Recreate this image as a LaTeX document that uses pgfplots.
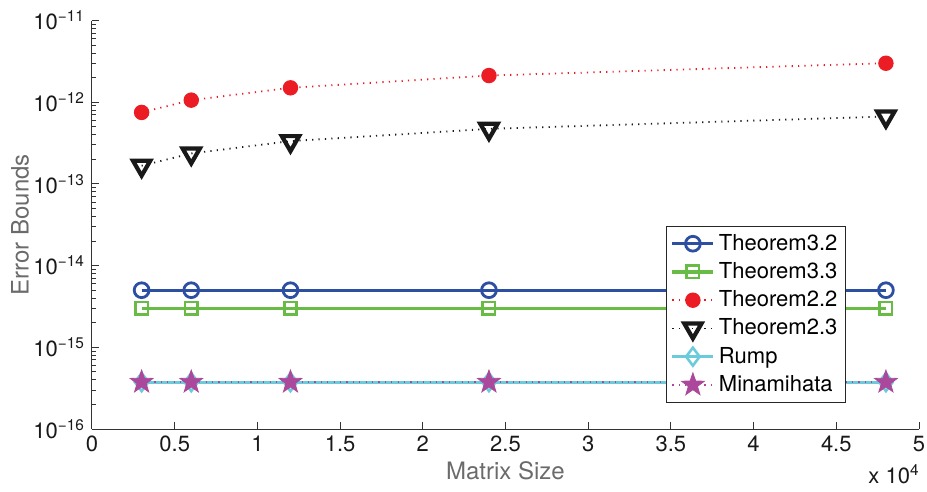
\documentclass[border=0pt]{standalone}
\usepackage{fontspec}
\setmainfont{TeX Gyre Heros}
\usepackage{pgfplots}
\pgfplotsset{compat=1.18}
\definecolor{cblue}{RGB}{44,79,162}
\definecolor{cgreen}{RGB}{104,188,70}
\definecolor{cred}{RGB}{236,28,36}
\definecolor{ccyan}{RGB}{108,203,218}
\definecolor{cmag}{RGB}{172,72,156}
\pgfdeclareplotmark{fstar}{%
  \pgfpathmoveto{\pgfpointpolar{90}{\pgfplotmarksize}}%
  \pgfpathlineto{\pgfpointpolar{126}{0.40*\pgfplotmarksize}}%
  \pgfpathlineto{\pgfpointpolar{162}{\pgfplotmarksize}}%
  \pgfpathlineto{\pgfpointpolar{198}{0.40*\pgfplotmarksize}}%
  \pgfpathlineto{\pgfpointpolar{234}{\pgfplotmarksize}}%
  \pgfpathlineto{\pgfpointpolar{270}{0.40*\pgfplotmarksize}}%
  \pgfpathlineto{\pgfpointpolar{306}{\pgfplotmarksize}}%
  \pgfpathlineto{\pgfpointpolar{342}{0.40*\pgfplotmarksize}}%
  \pgfpathlineto{\pgfpointpolar{18}{\pgfplotmarksize}}%
  \pgfpathlineto{\pgfpointpolar{54}{0.40*\pgfplotmarksize}}%
  \pgfpathclose
  \pgfusepathqfillstroke
}
\begin{document}
\begin{tikzpicture}
\path[use as bounding box] (-46pt,-31.5pt) rectangle (417.5pt,214.5pt);
\begin{axis}[
  scale only axis, width=413.5pt, height=204.25pt,
  at={(0,0)}, anchor=south west,
  ymode=log, log basis y=10, ymin=1e-16, ymax=1e-11,
  xmin=0, xmax=50000,
  axis lines=left, axis line style={-, line width=0.5pt, draw=black!80},
  tick align=inside,
  xtick={0,5000,10000,15000,20000,25000,30000,35000,40000,45000,50000},
  xticklabels={0,0.5,1,1.5,2,2.5,3,3.5,4,4.5,5},
  scaled x ticks=false,
  ytick={1e-16,1e-15,1e-14,1e-13,1e-12,1e-11},
  minor ytick={2e-16,3e-16,4e-16,5e-16,6e-16,7e-16,8e-16,9e-16,
    2e-15,3e-15,4e-15,5e-15,6e-15,7e-15,8e-15,9e-15,
    2e-14,3e-14,4e-14,5e-14,6e-14,7e-14,8e-14,9e-14,
    2e-13,3e-13,4e-13,5e-13,6e-13,7e-13,8e-13,9e-13,
    2e-12,3e-12,4e-12,5e-12,6e-12,7e-12,8e-12,9e-12},
  yticklabels={10\textsuperscript{−16},10\textsuperscript{−15},10\textsuperscript{−14},10\textsuperscript{−13},10\textsuperscript{−12},10\textsuperscript{−11}},
  major tick length=3.5pt, minor tick length=2pt,
  every tick/.style={black!80, line width=0.5pt},
  tick label style={font=\fontsize{11}{13}\selectfont, text=black!90},
  xlabel={Matrix Size}, ylabel={Error Bounds},
  every axis x label/.style={at={(axis description cs:0.5,0)},anchor=center,yshift=-21pt,
    font=\fontsize{12}{14}\selectfont, text=black!58},
  every axis y label/.style={at={(axis description cs:-0.087,0.5)},rotate=90,anchor=center,
    font=\fontsize{12}{14}\selectfont, text=black!58},
  legend style={at={(0.9117,0.0636)}, anchor=south east, draw=black!85, line width=0.6pt,
    font=\fontsize{11}{13}\selectfont, row sep=0.6pt, inner sep=2pt, cells={anchor=west}},
  legend image code/.code={\draw[mark repeat=2,mark phase=2] plot coordinates {(0cm,0cm) (0.36cm,0cm) (0.72cm,0cm)};},
  clip=false,
]
\addplot[color=cblue, line width=1.6pt, mark=o, mark size=3.7pt, mark options={line width=1.4pt, solid}]
  coordinates {(3000,5e-15) (6000,5e-15) (12000,5e-15) (24000,5e-15) (48000,5e-15)};
\addlegendentry{Theorem3.2}
\addplot[color=cgreen, line width=1.6pt, mark=square, mark size=3.1pt, mark options={line width=1.3pt, solid}]
  coordinates {(3000,3e-15) (6000,3e-15) (12000,3e-15) (24000,3e-15) (48000,3e-15)};
\addlegendentry{Theorem3.3}
\addplot[color=cred, line width=0.9pt, dash pattern=on 0.6pt off 2.6pt, mark=*, mark size=3.6pt, mark options={solid, fill=cred, line width=0.5pt}]
  coordinates {(3000,7.5e-13) (6000,1.06e-12) (12000,1.5e-12) (24000,2.12e-12) (48000,3.0e-12)};
\addlegendentry{Theorem2.2}
\addplot[color=black!90, line width=0.9pt, dash pattern=on 0.6pt off 2.6pt, mark=triangle, mark size=5pt, mark options={solid, rotate=180, line width=2.1pt}]
  coordinates {(3000,1.67e-13) (6000,2.36e-13) (12000,3.34e-13) (24000,4.72e-13) (48000,6.68e-13)};
\addlegendentry{Theorem2.3}
\addplot[color=ccyan, line width=1.6pt, mark=diamond, mark size=4.5pt, mark options={line width=1.3pt, solid}]
  coordinates {(3000,3.75e-16) (6000,3.75e-16) (12000,3.75e-16) (24000,3.75e-16) (48000,3.75e-16)};
\addlegendentry{Rump}
\addplot[color=cmag, line width=0.9pt, dash pattern=on 0.6pt off 2.6pt, mark=fstar, mark size=6pt, mark options={solid, fill=cmag, line width=0.4pt}]
  coordinates {(3000,3.75e-16) (6000,3.75e-16) (12000,3.75e-16) (24000,3.75e-16) (48000,3.75e-16)};
\addlegendentry{Minamihata}
\node[anchor=north east, font=\fontsize{11}{13}\selectfont, text=black!90, inner sep=0pt] at (rel axis cs:1,0) [yshift=-17.5pt, xshift=0.5pt] {x 10\textsuperscript{4}};
\end{axis}
\end{tikzpicture}
\end{document}
